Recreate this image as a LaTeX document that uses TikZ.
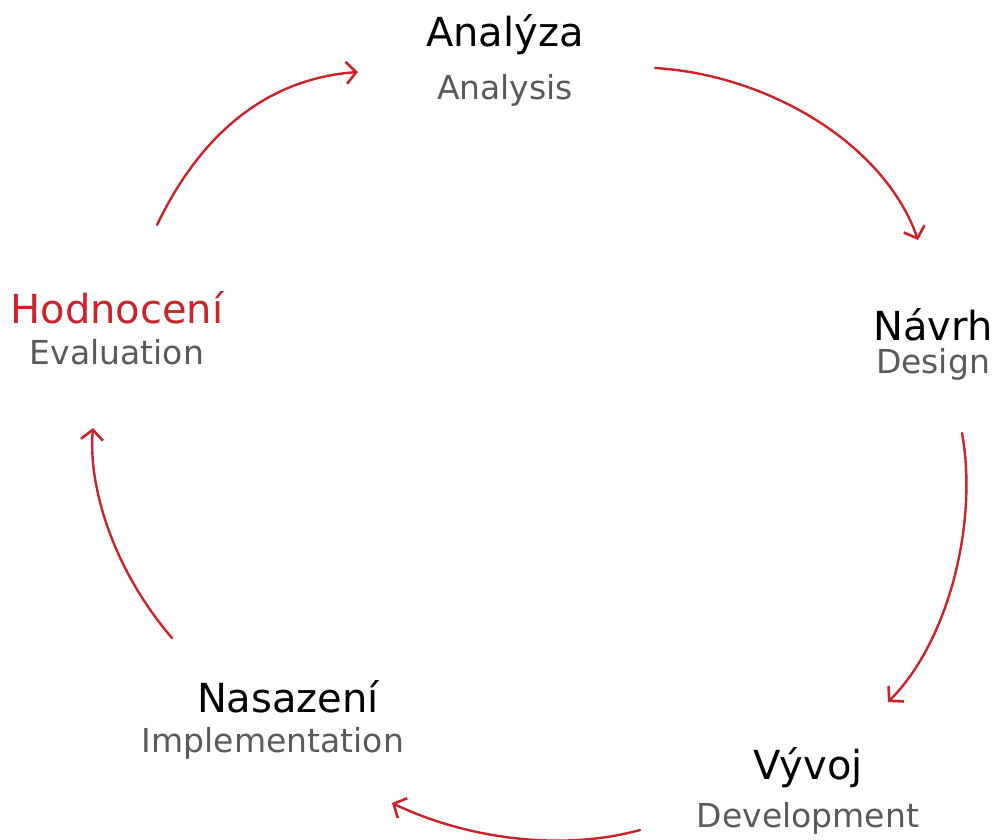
\documentclass[tikz,border=0pt]{standalone}
\usepackage{fontspec}
\setmainfont{DejaVu Sans}
\usetikzlibrary{arrows.meta}
\definecolor{cyred}{HTML}{CC2229}
\definecolor{subgray}{HTML}{5A5A5A}
\tikzset{
  title/.style={font=\fontsize{40}{44}\selectfont, text=black, inner sep=0pt},
  redtitle/.style={title, text=cyred},
  subtitle/.style={font=\fontsize{33}{38}\selectfont, text=subgray, inner sep=0pt},
  cyarrow/.style={draw=cyred, line width=2.4pt, line cap=round,
    -{Straight Barb[length=10pt, width=22pt, line width=2.6pt]}}
}
\begin{document}
\begin{tikzpicture}[x=1pt, y=-1pt]
\useasboundingbox (0,0) rectangle (1003,839);
\node[title] (ana) at (505,35) {Analýza};
\node[subtitle] (anaen) at (505,90) {Analysis};
\node[title] (nav) at (933,325) {Návrh};
\node[subtitle] (naven) at (933,364) {Design};
\node[title] (vyv) at (808,768) {Vývoj};
\node[subtitle] (vyven) at (808,818) {Development};
\node[title] (nas) at (288,697) {Nasazení};
\node[subtitle] (nasen) at (273,743) {Implementation};
\node[redtitle] (hod) at (117,308) {Hodnocení};
\node[subtitle] (hoden) at (117,352) {Evaluation};

\coordinate (a1s) at (157,225); \coordinate (a1e) at (358,72);
\coordinate (a2s) at (655,68);  \coordinate (a2e) at (918,240);
\coordinate (a3s) at (962,433); \coordinate (a3e) at (888,702);
\coordinate (a4s) at (640,830); \coordinate (a4e) at (392,803);
\coordinate (a5s) at (172,638); \coordinate (a5e) at (93,428);

\draw[cyarrow] (a1s) .. controls (205,125) and (275,78) .. (a1e);
\draw[cyarrow] (a2s) .. controls (770,75) and (885,145) .. (a2e);
\draw[cyarrow] (a3s) .. controls (978,520) and (950,640) .. (a3e);
\draw[cyarrow] (a4s) .. controls (560,852) and (465,838) .. (a4e);
\draw[cyarrow] (a5s) .. controls (112,568) and (88,485) .. (a5e);
\end{tikzpicture}
\end{document}
